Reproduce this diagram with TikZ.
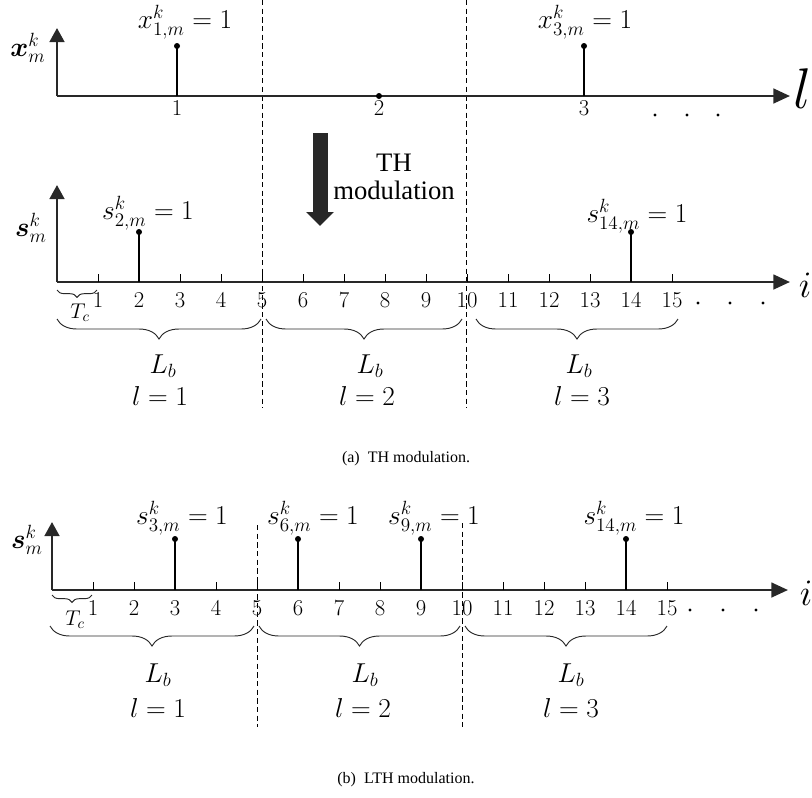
\RequirePackage{fix-cm}
\documentclass[tikz,border=0pt]{standalone}
\usepackage[no-math]{fontspec}
\usepackage{amsmath}
\usepackage{bm}
\usetikzlibrary{arrows.meta, decorations.pathreplacing}
\newfontfamily\capfont{Liberation Serif}
\definecolor{inkgray}{RGB}{40,40,40}

\begin{document}
\begin{tikzpicture}[
  x=0.75pt, y=-0.75pt,
  axisline/.style={line width=1.9pt, inkgray, -{Triangle[length=12.5pt, width=11pt]}},
  upline/.style={line width=1.9pt, inkgray, -{Triangle[length=10.5pt, width=11pt]}},
  pulse/.style={line width=0.8pt},
  tickmark/.style={line width=0.7pt},
  slotline/.style={line width=0.7pt, dash pattern=on 4pt off 2.5pt},
  lbbrace/.style={decorate, decoration={brace, mirror, amplitude=15pt}, line width=0.7pt, draw=inkgray},
  tcbrace/.style={decorate, decoration={brace, mirror, amplitude=5.5pt}, line width=0.7pt, draw=inkgray},
  dotnode/.style={circle, fill=black, inner sep=0pt, minimum size=4.5pt},
  gapdot/.style={circle, fill=black, inner sep=0pt, minimum size=2.4pt},
  ticklab/.style={font=\fontsize{17}{17}\selectfont, inner sep=0pt},
  mathlab/.style={font=\fontsize{20.5}{22}\selectfont, inner sep=0pt},
  caplab/.style={font=\fontsize{12}{14}\capfont, inner sep=0pt}
]
  \useasboundingbox (0,0) rectangle (812,797);

  %% frame boundaries
  \draw[slotline] (262,0) -- (262,408);
  \draw[slotline] (466,0) -- (466,408);
  \draw[slotline] (257,525) -- (257,727);
  \draw[slotline] (462,523) -- (462,727);

  %% symbol sequence x
  \coordinate (xo) at (57,96);
  \draw[upline]   (xo) -- (57,28);
  \draw[axisline] (xo) -- (790,96);
  \node[mathlab] (xlab) at (28,48) {$\bm{x}_m^k$};
  \node[font=\fontsize{43}{43}\selectfont, inner sep=0pt] (lvar) at (802,89) {$l$};

  \node[dotnode] (x1) at (177,46) {};
  \node[dotnode] (x2) at (379,96) {};
  \node[dotnode] (x3) at (584,46) {};
  \draw[pulse] (177,96) -- (x1.center);
  \draw[pulse] (584,96) -- (x3.center);
  \node[mathlab] (x1lab) at (185,22) {$x_{1,m}^k = 1$};
  \node[mathlab] (x3lab) at (585,22) {$x_{3,m}^k = 1$};
  \node[ticklab] (l1) at (177,108) {1};
  \node[ticklab] (l2) at (379,108) {2};
  \node[ticklab] (l3) at (584,108) {3};
  \foreach \px [count=\k] in {655,687,718}
    \node[gapdot] (xd\k) at (\px,115) {};

  %% TH arrow
  \draw[line width=11.25pt, inkgray, -{Triangle[length=10.5pt, width=20pt]}] (320,133) -- (320,226);
  \node[font=\fontsize{20}{21}\capfont, align=center, inner sep=0pt] (thtxt) at (394,177) {TH\\modulation};

  %% TH chips
  \coordinate (so) at (57,282);
  \draw[upline]   (so) -- (57,185);
  \draw[axisline] (so) -- (790,282);
  \node[mathlab] (slab) at (31,228) {$\bm{s}_m^k$};
  \node[font=\fontsize{28}{28}\selectfont, inner sep=0pt] (ivar) at (805,285) {$i$};
  \foreach \n in {1,...,15} {
    \draw[tickmark] ({57+41*\n},282) -- ++(0,-8);
    \node[ticklab] (ta\n) at ({57+41*\n},300) {\n};
  }
  \node[dotnode] (s2) at (139,232) {};
  \node[dotnode] (s14) at (631,232) {};
  \draw[pulse] (139,282) -- (s2.center);
  \draw[pulse] (631,282) -- (s14.center);
  \node[mathlab] (s2lab) at (148,213) {$s_{2,m}^k = 1$};
  \node[mathlab] (s14lab) at (637,216) {$s_{14,m}^k = 1$};
  \foreach \px [count=\k] in {698,730,763}
    \node[gapdot] (sd\k) at (\px,303) {};

  \draw[tcbrace] (57,290) -- (97,290);
  \node[mathlab, font=\fontsize{16}{16}\selectfont] (tca) at (80,313) {$T_c$};
  \draw[lbbrace] (57,319) -- (261,319);
  \draw[lbbrace] (266,319) -- (462,319);
  \draw[lbbrace] (476,319) -- (678,319);
  \node[mathlab] (lba1) at (163,366) {$L_b$};
  \node[mathlab] (lba2) at (370,366) {$L_b$};
  \node[mathlab] (lba3) at (579,366) {$L_b$};
  \node[mathlab] (fa1) at (160,396) {$l = 1$};
  \node[mathlab] (fa2) at (367,396) {$l = 2$};
  \node[mathlab] (fa3) at (582,396) {$l = 3$};

  \node[caplab] (capa) at (406,459) {(a)\enspace TH modulation.};

  %% LTH chips
  \coordinate (to) at (52,590);
  \draw[upline]   (to) -- (52,522);
  \draw[axisline] (to) -- (788,590);
  \node[mathlab] (tlab) at (27,540) {$\bm{s}_m^k$};
  \node[font=\fontsize{28}{28}\selectfont, inner sep=0pt] (ivarb) at (806,593) {$i$};
  \foreach \n in {1,...,15} {
    \draw[tickmark] ({52+41*\n},590) -- ++(0,-8);
    \node[ticklab] (tb\n) at ({52+41*\n},608) {\n};
  }
  \foreach \c/\px in {3/175,6/298,9/421,14/626} {
    \node[dotnode] (t\c) at (\px,539) {};
    \draw[pulse] (\px,590) -- (t\c.center);
  }
  \node[mathlab] (t3lab) at (182,518) {$s_{3,m}^k = 1$};
  \node[mathlab] (t6lab) at (313,518) {$s_{6,m}^k = 1$};
  \node[mathlab] (t9lab) at (434,518) {$s_{9,m}^k = 1$};
  \node[mathlab] (t14lab) at (634,518) {$s_{14,m}^k = 1$};
  \foreach \px [count=\k] in {690,723,756}
    \node[gapdot] (td\k) at (\px,610) {};

  \draw[tcbrace] (52,595) -- (92,595);
  \node[mathlab, font=\fontsize{16}{16}\selectfont] (tcb) at (75,620) {$T_c$};
  \draw[lbbrace] (50,626) -- (254,626);
  \draw[lbbrace] (259,626) -- (460,626);
  \draw[lbbrace] (465,626) -- (667,626);
  \node[mathlab] (lbb1) at (158,675) {$L_b$};
  \node[mathlab] (lbb2) at (365,675) {$L_b$};
  \node[mathlab] (lbb3) at (571,675) {$L_b$};
  \node[mathlab] (fb1) at (158,708) {$l = 1$};
  \node[mathlab] (fb2) at (363,708) {$l = 2$};
  \node[mathlab] (fb3) at (571,708) {$l = 3$};

  \node[caplab] (capb) at (406,780) {(b)\enspace LTH modulation.};
\end{tikzpicture}
\end{document}
